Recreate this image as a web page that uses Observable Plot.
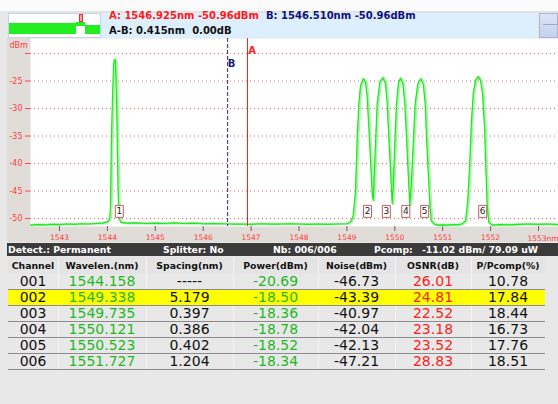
<!DOCTYPE html>
<html><head><meta charset="utf-8">
<script src="https://cdn.jsdelivr.net/npm/d3@7"></script>
<script src="https://cdn.jsdelivr.net/npm/@observablehq/plot@0.6"></script>
<style>
body{margin:0;width:558px;height:404px;background:#e8e8e8;position:relative;overflow:hidden;font-family:"DejaVu Sans",sans-serif}
.abs{position:absolute;box-sizing:border-box}
.hdr{font-size:10px;font-weight:bold;white-space:pre;line-height:12px}
.bar{font-size:9.3px;font-weight:bold;color:#fff;white-space:pre;line-height:13px}
.cell{position:absolute;text-align:center;white-space:pre}
</style></head>
<body>
<div id="root"></div>
<script>
// ---- data ----
const traceWl = [1542.40,1542.55,1542.70,1542.85,1543.00,1543.15,1543.30,1543.45,1543.60,1543.75,1543.90,1544.00,1544.05,1544.065,1544.08,1544.09,1544.11,1544.13,1544.145,1544.165,1544.18,1544.195,1544.21,1544.225,1544.24,1544.28,1544.40,1544.60,1544.80,1545.00,1545.20,1545.40,1545.60,1545.80,1546.00,1546.20,1546.40,1546.60,1546.80,1547.00,1547.20,1547.40,1547.60,1547.80,1548.00,1548.20,1548.40,1548.60,1548.80,1549.00,1549.08,1549.131,1549.18,1549.215,1549.25,1549.284,1549.34,1549.388,1549.423,1549.458,1549.493,1549.528,1549.549,1549.56,1549.597,1549.632,1549.687,1549.75,1549.806,1549.841,1549.875,1549.91,1549.946,1549.966,1550.0,1550.035,1550.077,1550.119,1550.167,1550.209,1550.244,1550.28,1550.313,1550.342,1550.384,1550.425,1550.48,1550.537,1550.593,1550.635,1550.662,1550.697,1550.731,1550.76,1550.815,1550.90,1551.00,1551.10,1551.20,1551.30,1551.40,1551.476,1551.524,1551.566,1551.601,1551.637,1551.685,1551.733,1551.789,1551.831,1551.873,1551.90,1551.93,1551.962,1552.03,1552.20,1552.40,1552.60,1552.80,1553.00,1553.20,1553.42];
const traceDbm = [-51.2,-51.1,-51.15,-51.05,-51.1,-51.0,-51.05,-50.95,-51.0,-50.9,-50.85,-50.6,-50.0,-47.5,-38.0,-33.5,-27.0,-21.8,-21.1,-21.2,-24.5,-30.0,-38.5,-45.5,-49.8,-50.7,-50.85,-50.8,-50.9,-50.85,-50.9,-50.8,-50.9,-50.85,-50.95,-50.9,-50.95,-51.0,-51.0,-51.05,-50.95,-51.0,-51.0,-50.95,-51.0,-51.05,-51.0,-51.05,-51.0,-50.95,-50.6,-49.5,-44.9,-35.2,-29.1,-25.8,-24.6,-25.2,-27.9,-33.4,-39.5,-45.5,-46.7,-44.3,-36.4,-29.1,-25.2,-24.4,-25.5,-29.1,-35.2,-41.3,-47.3,-44.3,-36.4,-29.1,-25.2,-24.5,-25.5,-29.1,-35.2,-41.9,-47.6,-44.3,-36.4,-29.1,-25.5,-24.6,-25.5,-29.1,-35.2,-41.3,-47.3,-50.4,-51.0,-51.2,-51.15,-51.2,-51.1,-51.15,-51.0,-50.4,-46.7,-39.5,-32.2,-27.3,-24.9,-24.2,-24.9,-27.3,-33.4,-40.7,-47.9,-50.7,-51.2,-51.1,-51.15,-51.05,-51.0,-51.05,-51.0,-51.1];
const markerLabels = ["1","2","3","4","5","6"];
const markerWl = [1544.248,1549.43,1549.823,1550.23,1550.624,1551.835];
const markerDbm = [-48.7,-48.7,-48.7,-48.7,-48.7,-48.7];
const cursorA = 1546.925, cursorB = 1546.510;
const yTicks = [-50,-45,-40,-35,-30,-25,-20];
const xTicks = [1543,1544,1545,1546,1547,1548,1549,1550,1551,1552,1553];

const channels = ["001","002","003","004","005","006"];
const wavelengths = [1544.158,1549.338,1549.735,1550.121,1550.523,1551.727];
const spacings = ["-----","5.179","0.397","0.386","0.402","1.204"];
const powers = [-20.69,-18.50,-18.36,-18.78,-18.52,-18.34];
const noises = [-46.73,-43.39,-40.97,-42.04,-42.13,-47.21];
const osnrs = [26.01,24.81,22.52,23.18,23.52,28.83];
const ppcomps = [10.78,17.84,18.44,16.73,17.76,18.51];
const headers = ["Channel","Wavelen.(nm)","Spacing(nm)","Power(dBm)","Noise(dBm)","OSNR(dB)","P/Pcomp(%)"];
const selectedRow = 1;

// ---- layout ----
const root = document.getElementById("root");
function box(x,y,w,h,style,text,cls){const d=document.createElement("div");d.className="abs"+(cls?" "+cls:"");Object.assign(d.style,{left:x+"px",top:y+"px",width:w+"px",height:h+"px"},style||{});if(text!=null)d.textContent=text;root.appendChild(d);return d;}

box(0,0,558,11,{background:"#fbfbfb"});
box(7,11,551,2,{background:"#e2e2e2"});
// thumbnail
box(8,13,93,25,{background:"#fff",border:"1px solid #c4d4e4"});
box(9,23,67,11,{background:"#22ee22"});
box(76,22,9,4,{background:"#22ee22"});
box(85,25,15,9,{background:"#22ee22"});
box(79,14,4,8,{border:"1px solid #e03030",background:"#f0a0a0"});
// readout band
box(101,13,436,25,{background:"#ddeefc"});
box(109,10,200,12,{color:"#ff1a1a"},"A: 1546.925nm -50.96dBm","hdr");
box(266,10,200,12,{color:"#101080"},"B: 1546.510nm -50.96dBm","hdr");
box(109,25,200,12,{color:"#111"},"A-B: 0.415nm  0.00dB","hdr");
box(539,13,19,25,{background:"linear-gradient(#dbe4f6,#c4d1ee)",border:"1px solid #a8b6d4"});
box(543,24,15,1,{background:"#9aa8c4"});

// ---- spectrum plot ----
const trace = traceWl.map((w,i)=>({wl:w,dbm:traceDbm[i]}));
const markers = markerWl.map((w,i)=>({wl:w,dbm:markerDbm[i],label:markerLabels[i]}));
const boxSymbol = {draw(ctx){ctx.moveTo(-4,-6);ctx.lineTo(4,-6);ctx.lineTo(4,6);ctx.lineTo(-4,6);ctx.closePath();}};

const chart = Plot.plot({
  width: 551, height: 204,
  marginLeft: 23, marginRight: 0, marginTop: 0, marginBottom: 16,
  x: {domain: [1542.3946, 1553.4175]},
  y: {domain: [-51.45, -17.27]},
  style: {background: "#e0dcd8", fontFamily: "DejaVu Sans", fontSize: "7.5px", overflow: "hidden"},
  marks: [
    Plot.frame({fill: "white", stroke: null}),
    Plot.ruleY(yTicks, {stroke: "#e06a6a", strokeDasharray: "1,3"}),
    Plot.axisY(yTicks, {tickSize: 5, tickPadding: 3, stroke: "#ff4a4a", fill: "#ff4040", fontSize: 8, label: null, tickFormat: d => d === -20 ? "" : String(d)}),
    Plot.axisX(xTicks, {tickSize: 5, tickPadding: 3, stroke: "#7a5a5a", fill: "#ff4040", fontSize: 7.5, label: null, tickFormat: d => d === 1553 ? "" : String(d)}),
    Plot.text(["1553nm"], {x: xTicks[xTicks.length-1], y: -51.45, dy: 12.5, textAnchor: "start", dx: -11, fill: "#ff4040", fontSize: 7.5}),
    Plot.text(["dBm"], {frameAnchor: "top-left", dx: -21, dy: 7, textAnchor: "start", lineAnchor: "middle", fill: "#ff4040", fontSize: 8}),
    Plot.line(trace, {x: "wl", y: "dbm", stroke: "#a8f4a8", strokeWidth: 2.6, dx: 1}),
    Plot.line(trace, {x: "wl", y: "dbm", stroke: "#1ee81e", strokeWidth: 1.2}),
    Plot.ruleX([cursorB], {stroke: "#2a2a8a", strokeDasharray: "4,2", strokeWidth: 1}),
    Plot.ruleX([cursorA], {stroke: "#ff2020", strokeWidth: 1}),
    Plot.text(["A"], {x: cursorA, frameAnchor: "top", lineAnchor: "middle", dy: 12, dx: 4.5, fill: "#ff2020", fontWeight: "bold", fontSize: 10}),
    Plot.text(["B"], {x: cursorB, frameAnchor: "top", lineAnchor: "middle", dy: 25, dx: 4, fill: "#1a1a7a", fontWeight: "bold", fontSize: 10}),
    Plot.dot(markers, {x: "wl", y: "dbm", symbol: boxSymbol, fill: "white", stroke: "#c06060", strokeWidth: 1, r: 4}),
    Plot.text(markers, {x: "wl", y: "dbm", text: "label", fill: "#222", fontSize: 9})
  ]
});
const holder = box(7,38,551,204,{});
holder.appendChild(chart);

// ---- status bar ----
box(7,243,551,13,{background:"#3b3b3b"});
[["Detect.: Permanent",8],["Splitter: No",163],["Nb: 006/006",273],["Pcomp:",374],["-11.02 dBm/ 79.09 uW",422]].forEach(([t,x])=>box(x,243,200,13,{},t,"bar"));

// ---- table ----
const colX = [8,58,146,233,318,395,471,545];
box(8,257,537,17,{background:"#e4e4e4"});
for(let c=1;c<7;c++) box(colX[c],257,1,113,{background:"#f4f4f4"});
headers.forEach((h,c)=>{const d=document.createElement("div");d.className="cell";Object.assign(d.style,{left:colX[c]+"px",top:"257px",width:(colX[c+1]-colX[c])+"px",height:"17px",lineHeight:"17px",fontSize:"9.3px",fontWeight:"bold",color:"#111"});d.textContent=h;root.appendChild(d);});
const rowTop = 274, rowH = 16;
channels.forEach((ch,i)=>{
  const y = rowTop + i*rowH;
  if(i===selectedRow) box(8,y,537,rowH,{background:"#ffff00"});
  box(8,y+rowH-1,537,1,{background:"#8c8c8c"});
  const vals = [[ch,"#111"],[wavelengths[i].toFixed(3),"#1fb81f"],[spacings[i],"#111"],[powers[i].toFixed(2),"#1fb81f"],[noises[i].toFixed(2),"#111"],[osnrs[i].toFixed(2),"#ff2020"],[ppcomps[i].toFixed(2),"#111"]];
  vals.forEach(([t,col],c)=>{const d=document.createElement("div");d.className="cell";Object.assign(d.style,{left:colX[c]+"px",top:(y-1)+"px",width:(colX[c+1]-colX[c])+"px",height:rowH+"px",lineHeight:rowH+"px",fontSize:"14px",color:col});d.textContent=t;root.appendChild(d);});
});
box(8,290-1,537,1,{background:"#8c8c8c"});
</script>
</body></html>
